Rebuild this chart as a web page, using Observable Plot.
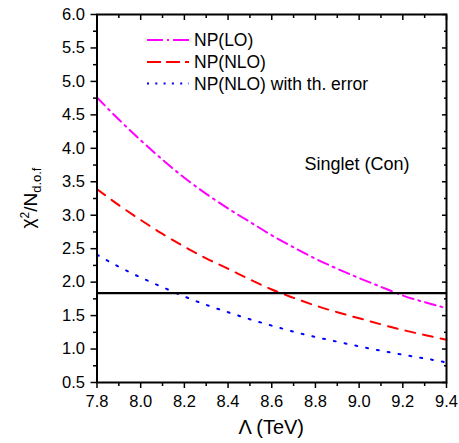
<!DOCTYPE html>
<html><head><meta charset="utf-8">
<script src="https://cdn.jsdelivr.net/npm/d3@7"></script>
<script src="https://cdn.jsdelivr.net/npm/@observablehq/plot@0.6"></script>
<style>
body{margin:0;background:#fff;}
#wrap{width:459px;height:443px;}
</style></head><body><div id="wrap"></div>
<script>
// ---- data ----
const lambda  = [7.8, 7.9, 8.0, 8.1, 8.2, 8.3, 8.4, 8.5, 8.6, 8.7, 8.8, 8.9, 9.0, 9.1, 9.2, 9.3, 9.4];
const npLO    = [4.76, 4.43, 4.12, 3.83, 3.56, 3.32, 3.10, 2.90, 2.70, 2.52, 2.35, 2.20, 2.06, 1.93, 1.80, 1.70, 1.61];
const npNLO   = [3.39, 3.15, 2.93, 2.72, 2.53, 2.355, 2.20, 2.04, 1.89, 1.765, 1.65, 1.55, 1.46, 1.37, 1.285, 1.21, 1.14];
const npNLOth = [2.41, 2.23, 2.07, 1.925, 1.785, 1.66, 1.55, 1.445, 1.35, 1.26, 1.18, 1.11, 1.04, 0.975, 0.915, 0.86, 0.80];
const limit = [1.835];

const seriesNames  = ["NP(LO)", "NP(NLO)", "NP(NLO) with th. error"];
const seriesValues = [npLO, npNLO, npNLOth];
const seriesColors = ["#ff00ff", "#ff0000", "#0000ff"];
const seriesDash   = ["11,5,2,5", "10,8", "2,9"];
const legendDash   = ["16,4,2,4", "14,5", "2,6.3"];

const xTicks = [7.8, 8.0, 8.2, 8.4, 8.6, 8.8, 9.0, 9.2, 9.4];
const xMinor = [7.9, 8.1, 8.3, 8.5, 8.7, 8.9, 9.1, 9.3];
const yTicks = [0.5, 1.0, 1.5, 2.0, 2.5, 3.0, 3.5, 4.0, 4.5, 5.0, 5.5, 6.0];
const yMinor = [0.75, 1.25, 1.75, 2.25, 2.75, 3.25, 3.75, 4.25, 4.75, 5.25, 5.75];

const annotation = [{x: 8.99, y: 3.76, text: "Singlet (Con)"}];
const xLabel = "Λ (TeV)";

// ---- chart ----
const FONT = "'Liberation Sans', Arial, Helvetica, sans-serif";
const W = 459, H = 443, ML = 96.5, MR = 13, MT = 14, MB = 61;
const blank = () => "";

const lineMarks = seriesValues.map((vals, i) =>
  Plot.line(lambda.map((x, j) => ({x, y: vals[j]})), {
    x: "x", y: "y", stroke: seriesColors[i], strokeWidth: 2,
    strokeDasharray: seriesDash[i], curve: "monotone-x"
  })
);

const chart = Plot.plot({
  width: W, height: H,
  marginLeft: ML, marginRight: MR, marginTop: MT, marginBottom: MB,
  style: {fontFamily: FONT, fontSize: "16px", background: "white", color: "black"},
  x: {domain: [7.8, 9.4]},
  y: {domain: [0.5, 6.0]},
  marks: [
    ...lineMarks,
    Plot.ruleY(limit, {stroke: "black", strokeWidth: 2.2}),
    Plot.text(annotation, {x: "x", y: "y", text: "text", fontSize: 18, textAnchor: "middle", fill: "black"}),
    // left axis (outward)
    Plot.axisY({ticks: yTicks, anchor: "left", tickSize: 6, tickPadding: 6, strokeWidth: 1.5,
      tickFormat: d => d.toFixed(1), fontSize: 16.5, label: null}),
    Plot.axisY({ticks: yMinor, anchor: "left", tickSize: 3.5, strokeWidth: 1.5, tickFormat: blank, label: null}),
    // right axis (inward)
    Plot.axisY({ticks: yTicks, anchor: "right", tickSize: 5, dx: -5, strokeWidth: 1.5, tickFormat: blank, label: null}),
    Plot.axisY({ticks: yMinor, anchor: "right", tickSize: 3, dx: -3, strokeWidth: 1.5, tickFormat: blank, label: null}),
    // bottom axis (outward)
    Plot.axisX({ticks: xTicks, anchor: "bottom", tickSize: 6, tickPadding: 7, strokeWidth: 1.5,
      tickFormat: d => d.toFixed(1), fontSize: 16.5, label: null}),
    Plot.axisX({ticks: xMinor, anchor: "bottom", tickSize: 4, strokeWidth: 1.5, tickFormat: blank, label: null}),
    // top axis (inward)
    Plot.axisX({ticks: xTicks, anchor: "top", tickSize: 5, dy: 5, strokeWidth: 1.5, tickFormat: blank, label: null}),
    Plot.axisX({ticks: xMinor, anchor: "top", tickSize: 3, dy: 3, strokeWidth: 1.5, tickFormat: blank, label: null}),
    Plot.frame({stroke: "black", strokeWidth: 2})
  ]
});

document.getElementById("wrap").appendChild(chart);

// ---- labels & legend (added to the svg) ----
const svg = d3.select(chart);
const cx = (ML + (W - MR)) / 2;

svg.append("text")
  .attr("x", cx).attr("y", 434)
  .attr("text-anchor", "middle")
  .style("font-family", FONT).style("font-size", "20px")
  .attr("fill", "black")
  .text(xLabel);

const yl = svg.append("text")
  .attr("transform", `translate(34,${MT + (H - MT - MB) / 2}) rotate(-90)`)
  .attr("text-anchor", "middle")
  .style("font-family", FONT).style("font-size", "19px")
  .attr("fill", "black");
yl.append("tspan").text("χ");
yl.append("tspan").attr("dy", "-0.45em").style("font-size", "12px").text("2");
yl.append("tspan").attr("dy", "0.45em").text("/N");
yl.append("tspan").attr("dy", "0.3em").style("font-size", "13px").text("d.o.f");

const legend = svg.append("g");
const legY = [40, 62, 83.5];
seriesNames.forEach((name, i) => {
  legend.append("line")
    .attr("x1", 147).attr("x2", 189).attr("y1", legY[i]).attr("y2", legY[i])
    .attr("stroke", seriesColors[i]).attr("stroke-width", 2)
    .attr("stroke-dasharray", legendDash[i]);
  legend.append("text")
    .attr("x", 194).attr("y", legY[i] + 6.3)
    .attr("text-anchor", "start")
    .style("font-family", FONT).style("font-size", "17.5px")
    .attr("fill", "black")
    .text(name);
});
</script>
</body></html>
